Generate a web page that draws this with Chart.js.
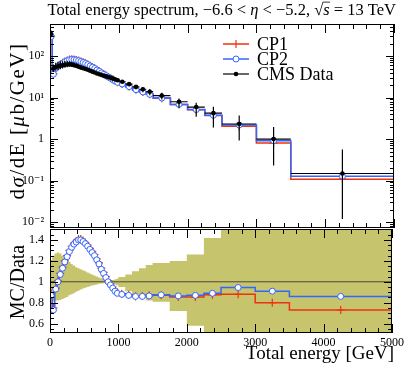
<!DOCTYPE html>
<html>
<head>
<meta charset="utf-8">
<script src="https://cdn.jsdelivr.net/npm/chart.js@4.4.0/dist/chart.umd.min.js"></script>
<style>
  html, body { margin: 0; padding: 0; background: #fff; }
  #wrap { position: relative; width: 407px; height: 367px; }
  canvas { position: absolute; left: 0; top: 0; }
</style>
</head>
<body>
<div id="wrap">
  <canvas id="main" width="407" height="367"></canvas>
  <canvas id="ratio" width="407" height="367"></canvas>
</div>
<script>
// Bin edges in GeV (42 bins)
const binEdges = [0, 33, 67, 100, 133, 167, 200, 233, 267, 300, 333, 367, 400, 433, 467, 500,
  533, 567, 600, 633, 667, 700, 733, 767, 800, 833, 867, 900, 933, 967, 1000,
  1100, 1200, 1300, 1400, 1500, 1750, 2000, 2250, 2500, 3000, 3500, 5000];

// CMS data, dsigma/dE [mub/GeV]
const dataVals = [340, 50, 54, 56.5, 58.5, 60, 61.5, 62.5, 63, 62, 60, 58, 55, 52.5, 50.5,
  48.5, 46.5, 44, 42, 40, 38, 36.5, 35, 33.5, 32.3, 31, 29.8, 28.5, 27.2, 26,
  24, 21, 18, 15.8, 13.8, 11.1, 7.9, 5.9, 4.2, 2.3, 1.0, 0.148];

// relative data uncertainties (up / down)
const dataErrUp = [0.21, 0.25, 0.27, 0.28, 0.27, 0.25, 0.23, 0.21, 0.19, 0.17, 0.155, 0.14, 0.13,
  0.12, 0.11, 0.10, 0.09, 0.08, 0.07, 0.06, 0.05, 0.042, 0.035, 0.028, 0.022, 0.018, 0.016,
  0.018, 0.022, 0.028, 0.045, 0.07, 0.10, 0.13, 0.16, 0.18, 0.20, 0.26, 0.42, 0.60, 0.95, 2.8];
const dataErrDown = [0.17, 0.18, 0.18, 0.18, 0.175, 0.165, 0.155, 0.145, 0.13, 0.12, 0.11, 0.095,
  0.085, 0.075, 0.065, 0.058, 0.05, 0.043, 0.036, 0.03, 0.025, 0.02, 0.016, 0.013, 0.011, 0.01,
  0.012, 0.018, 0.025, 0.032, 0.05, 0.09, 0.12, 0.15, 0.18, 0.19, 0.28, 0.42, 0.55, 0.60, 0.77, 0.92];

// MC / Data
const cp1Ratio = [0.89, 0.75, 0.94, 1.01, 1.08, 1.14, 1.20, 1.25, 1.30, 1.34, 1.37, 1.39, 1.41,
  1.41, 1.395, 1.375, 1.35, 1.32, 1.29, 1.26, 1.22, 1.18, 1.13, 1.09, 1.05, 1.01, 0.98, 0.95,
  0.92, 0.90, 0.885, 0.875, 0.86, 0.865, 0.87, 0.87, 0.855, 0.855, 0.875, 0.88, 0.80, 0.73];
const cp2Ratio = [0.87, 0.73, 0.93, 1.0, 1.07, 1.13, 1.19, 1.24, 1.29, 1.33, 1.36, 1.38, 1.40,
  1.40, 1.385, 1.365, 1.34, 1.31, 1.28, 1.25, 1.21, 1.17, 1.12, 1.08, 1.04, 1.0, 0.97, 0.94,
  0.91, 0.89, 0.88, 0.87, 0.86, 0.86, 0.865, 0.875, 0.865, 0.87, 0.89, 0.945, 0.91, 0.86];

const xTicks = [0, 1000, 2000, 3000, 4000, 5000];
const yTicks = [0.01, 0.1, 1, 10, 100];
const yTickLabels = ['10⁻²', '10⁻¹', '1', '10¹', '10²'];
const ratioTicks = [0.6, 0.8, 1, 1.2, 1.4];
const ratioTickLabels = ['0.6', '0.8', '1', '1.2', '1.4'];

const RED = '#ee3311';
const BLUE = '#3366ff';
const BAND = '#c6c46c';
const FONT = "'Liberation Serif', 'DejaVu Serif', serif";

const centers = dataVals.map((_, i) => (binEdges[i] + binEdges[i + 1]) / 2);

function steps(vals) {
  const pts = [];
  vals.forEach((v, i) => {
    pts.push({ x: binEdges[i], y: v });
    pts.push({ x: binEdges[i + 1], y: v });
  });
  return pts;
}
function points(vals) {
  return vals.map((v, i) => ({ x: centers[i], y: v }));
}

const cp1Vals = dataVals.map((v, i) => v * cp1Ratio[i]);
const cp2Vals = dataVals.map((v, i) => v * cp2Ratio[i]);

// inward ticks + frame
function drawFrame(chart, yMajor, yMinor) {
  const { ctx, chartArea: a, scales: { x, y } } = chart;
  ctx.save();
  ctx.strokeStyle = '#000';
  ctx.lineWidth = 1;
  ctx.beginPath();
  const hTick = (v, len) => {
    const px = Math.round(x.getPixelForValue(v)) + 0.5;
    ctx.moveTo(px, a.top); ctx.lineTo(px, a.top + len);
    ctx.moveTo(px, a.bottom); ctx.lineTo(px, a.bottom - len);
  };
  const vTick = (v, len) => {
    const py = Math.round(y.getPixelForValue(v)) + 0.5;
    ctx.moveTo(a.left, py); ctx.lineTo(a.left + len, py);
    ctx.moveTo(a.right, py); ctx.lineTo(a.right - len, py);
  };
  for (let v = 0; v <= 5000; v += 200) hTick(v, v % 1000 === 0 ? 9 : 5);
  yMajor.forEach(v => vTick(v, 8));
  yMinor.forEach(v => vTick(v, 4));
  ctx.stroke();
  ctx.strokeRect(a.left + 0.5, a.top + 0.5, a.right - a.left - 1, a.bottom - a.top - 1);
  ctx.restore();
}

// text made of plain / italic pieces
function drawPieces(ctx, pieces, size, x, y, align) {
  const fontFor = p => (p.it ? 'italic ' : '') + size + 'px ' + FONT;
  let total = 0;
  pieces.forEach(p => { ctx.font = fontFor(p); p.w = ctx.measureText(p.t).width; total += p.w; });
  let cx = align === 'center' ? x - total / 2 : (align === 'right' ? x - total : x);
  pieces.forEach(p => {
    ctx.font = fontFor(p);
    ctx.fillText(p.t, cx, y);
    if (p.over) {
      ctx.beginPath();
      ctx.lineWidth = 0.8;
      ctx.moveTo(cx - 0.5, y - size * 0.78);
      ctx.lineTo(cx + p.w + 0.5, y - size * 0.78);
      ctx.stroke();
    }
    cx += p.w;
  });
}

const logMinor = [];
for (let d = -3; d <= 2; d++) {
  for (let m = 2; m <= 9; m++) logMinor.push(m * Math.pow(10, d));
}
const ratioMinor = [];
for (let k = 10; k <= 30; k++) if (k % 4 !== 0) ratioMinor.push(k * 0.05);

const mainPlugin = {
  id: 'mainDeco',
  afterDatasetsDraw(chart) {
    const { ctx, chartArea: a, scales: { x, y } } = chart;
    ctx.save();
    ctx.beginPath();
    ctx.rect(a.left, a.top, a.right - a.left, a.bottom - a.top);
    ctx.clip();
    ctx.strokeStyle = '#000';
    ctx.lineWidth = 1.2;
    dataVals.forEach((v, i) => {
      const yc = y.getPixelForValue(v);
      const cx = x.getPixelForValue(centers[i]);
      ctx.beginPath();
      ctx.moveTo(x.getPixelForValue(binEdges[i]), yc);
      ctx.lineTo(x.getPixelForValue(binEdges[i + 1]), yc);
      ctx.moveTo(cx, y.getPixelForValue(v * (1 + dataErrUp[i])));
      ctx.lineTo(cx, y.getPixelForValue(v * (1 - dataErrDown[i])));
      ctx.stroke();
    });
    ctx.restore();
  },
  afterDraw(chart) {
    const { ctx } = chart;
    drawFrame(chart, yTicks, logMinor.filter(v => v > 0.0072 && v < 590));

    ctx.save();
    ctx.fillStyle = '#000';
    ctx.strokeStyle = '#000';
    ctx.textBaseline = 'alphabetic';
    // title
    drawPieces(ctx, [
      { t: 'Total energy spectrum, −6.6 < ' },
      { t: 'η', it: true },
      { t: ' < −5.2, √' },
      { t: 's', it: true, over: true },
      { t: ' = 13 TeV' }
    ], 16.5, 396, 15, 'right');

    // y title
    ctx.save();
    ctx.translate(24, 121);
    ctx.rotate(-Math.PI / 2);
    ctx.letterSpacing = '1.5px';
    drawPieces(ctx, [
      { t: 'd' }, { t: 'σ', it: true }, { t: '/dE [' }, { t: 'μ', it: true }, { t: 'b/GeV]' }
    ], 21, 0, 0, 'center');
    ctx.restore();

    // legend
    const rows = [
      { label: 'CP1', color: RED, style: 'cross', y: 44 },
      { label: 'CP2', color: BLUE, style: 'circle', y: 59 },
      { label: 'CMS Data', color: '#000', style: 'dot', y: 74 }
    ];
    rows.forEach(r => {
      ctx.strokeStyle = r.color;
      ctx.lineWidth = r.style === 'dot' ? 1.2 : 1.5;
      ctx.beginPath();
      ctx.moveTo(223, r.y); ctx.lineTo(249, r.y);
      ctx.stroke();
      if (r.style === 'cross') {
        ctx.lineWidth = 1.2;
        ctx.beginPath();
        ctx.moveTo(236, r.y - 4); ctx.lineTo(236, r.y + 4);
        ctx.stroke();
      } else if (r.style === 'circle') {
        ctx.fillStyle = '#fff';
        ctx.lineWidth = 1;
        ctx.beginPath(); ctx.arc(236, r.y, 3, 0, Math.PI * 2); ctx.fill(); ctx.stroke();
      } else {
        ctx.fillStyle = '#000';
        ctx.beginPath(); ctx.arc(236, r.y, 2.3, 0, Math.PI * 2); ctx.fill();
      }
      ctx.fillStyle = '#000';
      ctx.font = '18px ' + FONT;
      ctx.fillText(r.label, 257, r.y + 6);
    });
    ctx.restore();
  }
};

const ratioPlugin = {
  id: 'ratioDeco',
  afterDraw(chart) {
    const { ctx } = chart;
    drawFrame(chart, ratioTicks, ratioMinor.filter(v => v > 0.51 && v < 1.5));
    ctx.save();
    ctx.fillStyle = '#000';
    ctx.textBaseline = 'alphabetic';
    drawPieces(ctx, [{ t: 'Total energy [GeV]' }], 19, 394, 359, 'right');
    ctx.translate(24, 282);
    ctx.rotate(-Math.PI / 2);
    drawPieces(ctx, [{ t: 'MC/Data' }], 20, 0, 0, 'center');
    ctx.restore();
  }
};

const tickFont = { family: FONT, size: 12 };

new Chart(document.getElementById('main'), {
  type: 'line',
  data: {
    datasets: [
      { data: points(dataVals), showLine: false, pointRadius: 2.3, pointBackgroundColor: '#000',
        pointBorderWidth: 0, order: 0 },
      { data: points(cp2Vals), showLine: false, pointStyle: 'circle', pointRadius: 3,
        pointBackgroundColor: '#fff', pointBorderColor: BLUE, pointBorderWidth: 1, order: 1 },
      { data: steps(cp2Vals), borderColor: BLUE, borderWidth: 1.5, pointRadius: 0, fill: false, order: 2 },
      { data: points(cp1Vals), showLine: false, pointStyle: 'cross', pointRadius: 4,
        pointBorderColor: RED, pointBorderWidth: 1.2, order: 3 },
      { data: steps(cp1Vals), borderColor: RED, borderWidth: 1.5, pointRadius: 0, fill: false, order: 4 }
    ]
  },
  options: {
    responsive: false,
    animation: false,
    devicePixelRatio: 1,
    layout: { padding: { left: 0, right: 13, top: 24, bottom: 139 } },
    plugins: { legend: { display: false }, tooltip: { enabled: false } },
    scales: {
      x: { type: 'linear', min: 0, max: 5000, display: false },
      y: {
        type: 'logarithmic', min: 0.0072, max: 590,
        afterFit: s => { s.width = 50; },
        afterBuildTicks: s => { s.ticks = yTicks.map(v => ({ value: v })); },
        ticks: { callback: (v, i) => yTickLabels[i], font: tickFont, color: '#000', padding: 6, autoSkip: false },
        grid: { display: false, drawTicks: false },
        border: { display: false }
      }
    }
  },
  plugins: [mainPlugin]
});

new Chart(document.getElementById('ratio'), {
  type: 'line',
  data: {
    datasets: [
      { data: points(cp2Ratio), showLine: false, pointStyle: 'circle', pointRadius: 3,
        pointBackgroundColor: '#fff', pointBorderColor: BLUE, pointBorderWidth: 1, order: 0 },
      { data: steps(cp2Ratio), borderColor: BLUE, borderWidth: 1.5, pointRadius: 0, fill: false, order: 1 },
      { data: points(cp1Ratio), showLine: false, pointStyle: 'cross', pointRadius: 4,
        pointBorderColor: RED, pointBorderWidth: 1.2, order: 2 },
      { data: steps(cp1Ratio), borderColor: RED, borderWidth: 1.5, pointRadius: 0, fill: false, order: 3 },
      { data: [{ x: 0, y: 1 }, { x: 5000, y: 1 }], borderColor: '#4a4a3a', borderWidth: 1,
        pointRadius: 0, fill: false, order: 4 },
      { data: steps(dataErrUp.map(e => 1 + e)), borderColor: 'rgba(0,0,0,0)', borderWidth: 0,
        pointRadius: 0, fill: '+1', backgroundColor: BAND, order: 5 },
      { data: steps(dataErrDown.map(e => 1 - e)), borderColor: 'rgba(0,0,0,0)', borderWidth: 0,
        pointRadius: 0, fill: false, order: 6 }
    ]
  },
  options: {
    responsive: false,
    animation: false,
    devicePixelRatio: 1,
    layout: { padding: { left: 0, right: 13, top: 229, bottom: 0 } },
    plugins: { legend: { display: false }, tooltip: { enabled: false } },
    scales: {
      x: {
        type: 'linear', min: 0, max: 5000,
        afterFit: s => { s.height = 34; },
        afterBuildTicks: s => { s.ticks = xTicks.map(v => ({ value: v })); },
        ticks: { callback: v => String(v), font: tickFont, color: '#000', padding: 3,
          maxRotation: 0, autoSkip: false },
        grid: { display: false, drawTicks: false },
        border: { display: false }
      },
      y: {
        type: 'linear', min: 0.51, max: 1.505,
        afterFit: s => { s.width = 50; },
        afterBuildTicks: s => { s.ticks = ratioTicks.map(v => ({ value: v })); },
        ticks: { callback: (v, i) => ratioTickLabels[i], font: tickFont, color: '#000', padding: 6, autoSkip: false },
        grid: { display: false, drawTicks: false },
        border: { display: false }
      }
    }
  },
  plugins: [ratioPlugin]
});
</script>
</body>
</html>
